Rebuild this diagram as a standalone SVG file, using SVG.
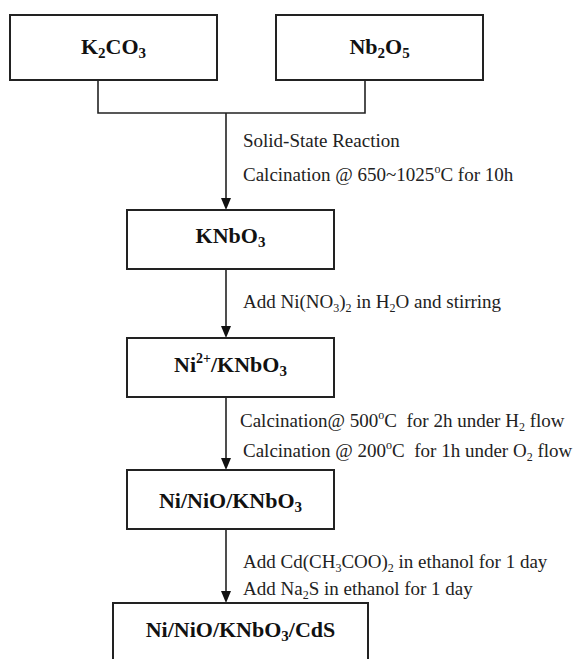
<svg xmlns="http://www.w3.org/2000/svg" width="574" height="659" viewBox="0 0 574 659">
<defs>
<style>
.box{fill:#fff;stroke:#222;stroke-width:2}
.lbl{font-family:"Liberation Serif","Times New Roman",serif;font-weight:bold;font-size:22px;fill:#111;text-anchor:middle}
.note{font-family:"Liberation Serif","Times New Roman",serif;font-size:19px;fill:#222}
.ln{fill:none;stroke:#222;stroke-width:1.6}
.ah{fill:#111}
</style>
</defs>
<rect width="574" height="659" fill="#fff"/>
<g id="connectors">
<polyline class="ln" points="98,80 98,113 365,113 365,80"/>
<path d="M226,113 V198" class="ln"/>
<path class="ah" d="M221,198 L231,198 L226,210 Z"/>
<path d="M226,269 V326" class="ln"/>
<path class="ah" d="M221,326 L231,326 L226,338 Z"/>
<path d="M226,397 V458" class="ln"/>
<path class="ah" d="M221,458 L231,458 L226,470 Z"/>
<path d="M226,529 V591" class="ln"/>
<path class="ah" d="M221,591 L231,591 L226,603 Z"/>
</g>
<g id="k2co3">
<rect class="box" x="10" y="15" width="207" height="65"/>
<text class="lbl" x="113.5" y="54">K<tspan font-size="15" dy="4">2</tspan><tspan dy="-4">CO</tspan><tspan font-size="15" dy="4">3</tspan></text>
</g>
<g id="nb2o5">
<rect class="box" x="276" y="15" width="207" height="65"/>
<text class="lbl" x="379.5" y="54">Nb<tspan font-size="15" dy="4">2</tspan><tspan dy="-4">O</tspan><tspan font-size="15" dy="4">5</tspan></text>
</g>
<g id="knbo3">
<rect class="box" x="127" y="210" width="207" height="59"/>
<text class="lbl" x="230.5" y="243">KNbO<tspan font-size="15" dy="4">3</tspan></text>
</g>
<g id="ni2knbo3">
<rect class="box" x="127" y="338" width="207" height="59"/>
<text class="lbl" x="230.5" y="372">Ni<tspan font-size="14" dy="-9">2+</tspan><tspan dy="9">/KNbO</tspan><tspan font-size="15" dy="4">3</tspan></text>
</g>
<g id="ninioknbo3">
<rect class="box" x="127" y="470" width="207" height="59"/>
<text class="lbl" x="230.5" y="508">Ni/NiO/KNbO<tspan font-size="15" dy="4">3</tspan></text>
</g>
<g id="final">
<rect class="box" x="113" y="603" width="255" height="80"/>
<text class="lbl" x="240.5" y="637">Ni/NiO/KNbO<tspan font-size="15" dy="4">3</tspan><tspan dy="-4">/CdS</tspan></text>
</g>
<g id="notes">
<text class="note" x="243" y="147">Solid-State Reaction</text>
<text class="note" x="243" y="181">Calcination @ 650~1025<tspan font-size="12" dy="-8">o</tspan><tspan dy="8">C for 10h</tspan></text>
<text class="note" x="243" y="308">Add Ni(NO<tspan font-size="12" dy="4">3</tspan><tspan dy="-4">)</tspan><tspan font-size="12" dy="4">2</tspan><tspan dy="-4"> in H</tspan><tspan font-size="12" dy="4">2</tspan><tspan dy="-4">O and stirring</tspan></text>
<text class="note" x="240" y="427" xml:space="preserve">Calcination@ 500<tspan font-size="12" dy="-8">o</tspan><tspan dy="8">C  for 2h under H</tspan><tspan font-size="12" dy="4">2</tspan><tspan dy="-4"> flow</tspan></text>
<text class="note" x="243" y="457" xml:space="preserve">Calcination @ 200<tspan font-size="12" dy="-8">o</tspan><tspan dy="8">C  for 1h under O</tspan><tspan font-size="12" dy="4">2</tspan><tspan dy="-4"> flow</tspan></text>
<text class="note" x="243" y="568">Add Cd(CH<tspan font-size="12" dy="4">3</tspan><tspan dy="-4">COO)</tspan><tspan font-size="12" dy="4">2</tspan><tspan dy="-4"> in ethanol for 1 day</tspan></text>
<text class="note" x="243" y="595">Add Na<tspan font-size="12" dy="4">2</tspan><tspan dy="-4">S in ethanol for 1 day</tspan></text>
</g>
</svg>
